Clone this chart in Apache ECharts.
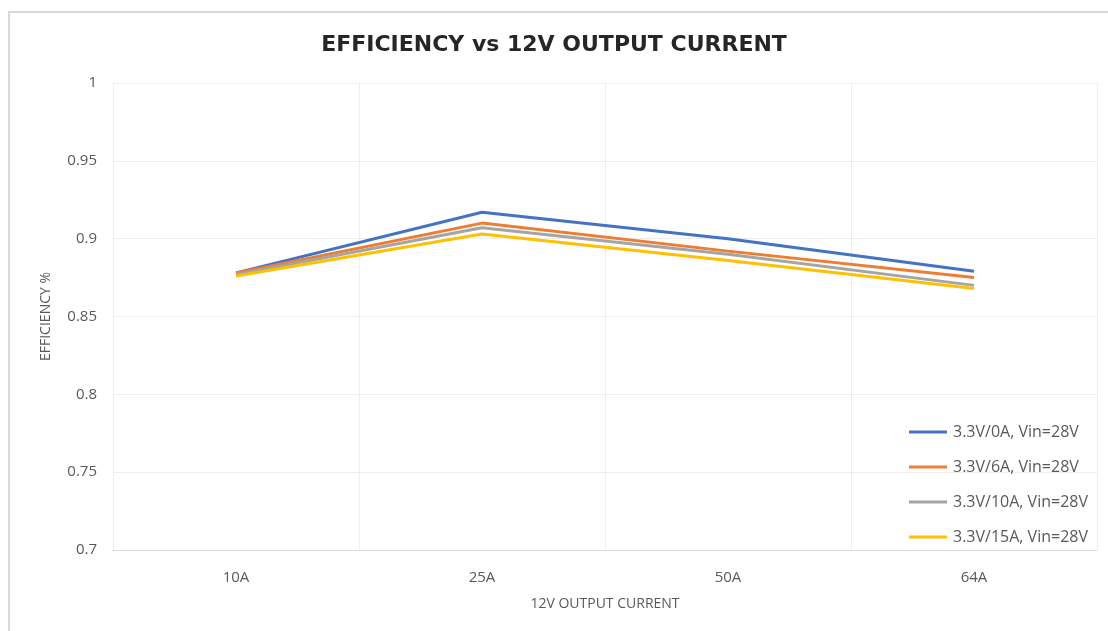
<!DOCTYPE html>
<html>
<head>
<meta charset="utf-8">
<script src="https://cdn.jsdelivr.net/npm/echarts@6/dist/echarts.min.js"></script>
<style>
  html, body { margin: 0; padding: 0; background: #fff; }
  #chart { width: 1108px; height: 631px; }
</style>
</head>
<body>
<div id="chart"></div>
<script>
// data
const categories = ['10A', '25A', '50A', '64A']
const seriesNames = ['3.3V/0A, Vin=28V', '3.3V/6A, Vin=28V', '3.3V/10A, Vin=28V', '3.3V/15A, Vin=28V']
const eff0A = [0.878, 0.917, 0.900, 0.879]
const eff6A = [0.878, 0.910, 0.892, 0.875]
const eff10A = [0.877, 0.907, 0.890, 0.870]
const eff15A = [0.876, 0.903, 0.886, 0.868]
const colors = ['#4472C4', '#ED7D31', '#A5A5A5', '#FFC000']

const labelFont = 'Open Sans'
const chart = echarts.init(document.getElementById('chart'))

const lineSeries = [eff0A, eff6A, eff10A, eff15A].map(function (values, i) {
  return {
    name: seriesNames[i],
    type: 'line',
    data: values,
    symbol: 'none',
    lineStyle: { width: 3, color: colors[i] },
    itemStyle: { color: colors[i] },
    animation: false
  }
})

chart.setOption({
  title: {
    text: 'EFFICIENCY vs 12V OUTPUT CURRENT',
    left: 'center',
    top: 29,
    textStyle: {
      fontFamily: 'DejaVu Sans',
      fontWeight: 'bold',
      fontSize: 22,
      color: '#262626'
    }
  },
  legend: {
    orient: 'vertical',
    left: 904,
    top: 419,
    icon: 'rect',
    itemWidth: 38,
    itemHeight: 3,
    itemGap: 19,
    textStyle: { fontFamily: labelFont, fontSize: 16, color: '#595959', padding: [0, 0, 0, 1] },
    data: seriesNames
  },
  grid: {
    left: 113,
    right: 11,
    top: 83,
    bottom: 81
  },
  xAxis: {
    type: 'category',
    data: categories,
    name: '12V OUTPUT CURRENT',
    nameLocation: 'middle',
    nameGap: 47,
    nameTextStyle: { fontFamily: labelFont, fontSize: 14, color: '#595959' },
    axisLine: { lineStyle: { color: '#d9d9d9', width: 1 } },
    axisTick: { show: false },
    axisLabel: { fontFamily: labelFont, fontSize: 15, color: '#595959', margin: 20 },
    splitLine: { show: true, lineStyle: { color: '#eeeeee' } }
  },
  yAxis: {
    type: 'value',
    min: 0.7,
    max: 1,
    interval: 0.05,
    name: 'EFFICIENCY %',
    nameLocation: 'middle',
    nameGap: 60,
    nameTextStyle: { fontFamily: labelFont, fontSize: 14, color: '#595959' },
    axisLine: { show: false },
    axisTick: { show: false },
    axisLabel: { fontFamily: labelFont, fontSize: 15, color: '#595959', margin: 16 },
    splitLine: { lineStyle: { color: '#eeeeee' } }
  },
  graphic: [{
    type: 'rect',
    shape: { x: 9, y: 12, width: 1120, height: 640 },
    style: { fill: 'none', stroke: '#d9d9d9', lineWidth: 2 },
    silent: true
  }],
  series: lineSeries
})
</script>
</body>
</html>
